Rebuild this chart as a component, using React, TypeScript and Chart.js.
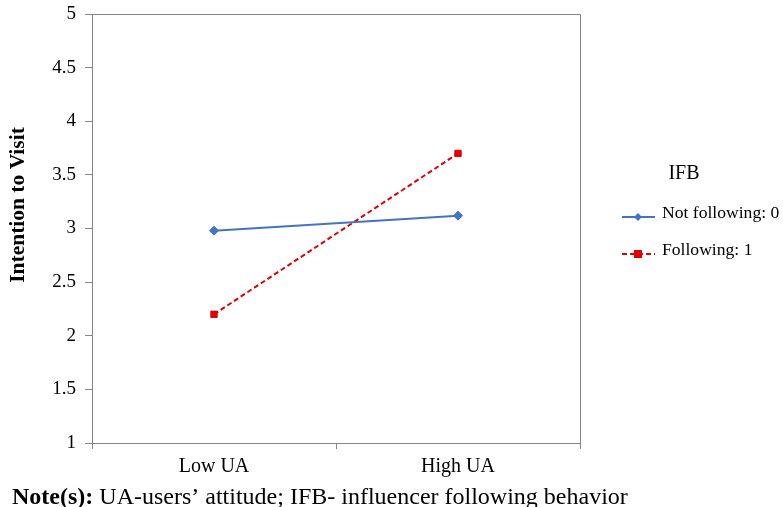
import React, { useEffect, useRef } from "react";
import { Chart, registerables } from "chart.js";
Chart.register(...registerables);

const categories = ["Low UA", "High UA"];
const seriesNames = ["Not following: 0", "Following: 1"];
const notFollowing = [2.98, 3.12];
const following = [2.2, 3.7];
const legendTitle = "IFB";
const yAxisTitle = "Intention to Visit";
const noteBold = "Note(s):";
const noteText = " UA-users\u2019 attitude; IFB- influencer following behavior";

const SERIF = "'Liberation Serif', 'Times New Roman', serif";
const AXIS = "#868686";
const BLUE = "#4472C4";
const RED = "#E00000";

const extras = {
  id: "extras",
  afterDraw(chart: any) {
    const ctx = chart.ctx;
    const { left, top, right, bottom } = chart.chartArea;
    ctx.save();
    ctx.strokeStyle = AXIS;
    ctx.lineWidth = 1;
    ctx.beginPath();
    ctx.moveTo(left, top + 0.5);
    ctx.lineTo(right + 0.5, top + 0.5);
    ctx.lineTo(right + 0.5, bottom);
    ctx.stroke();

    // y axis title
    ctx.save();
    ctx.translate(18, 205);
    ctx.rotate(-Math.PI / 2);
    ctx.fillStyle = "#000";
    ctx.font = `bold 21.5px ${SERIF}`;
    ctx.textAlign = "center";
    ctx.textBaseline = "middle";
    ctx.fillText(yAxisTitle, 0, 0);
    ctx.restore();

    // legend
    ctx.fillStyle = "#000";
    ctx.font = `20px ${SERIF}`;
    ctx.textBaseline = "middle";
    ctx.textAlign = "center";
    ctx.fillText(legendTitle, 684, 174);
    ctx.textAlign = "left";
    ctx.font = `17.6px ${SERIF}`;
    chart.data.datasets.forEach((ds: any, i: number) => {
      const y = 217 + i * 37;
      ctx.strokeStyle = ds.borderColor;
      ctx.lineWidth = 2;
      ctx.setLineDash(ds.borderDash || []);
      ctx.beginPath();
      ctx.moveTo(622, y);
      ctx.lineTo(655, y);
      ctx.stroke();
      ctx.setLineDash([]);
      ctx.fillStyle = ds.backgroundColor;
      if (ds.pointStyle === "rectRot") {
        ctx.beginPath();
        ctx.moveTo(638, y - 4);
        ctx.lineTo(642, y);
        ctx.lineTo(638, y + 4);
        ctx.lineTo(634, y);
        ctx.closePath();
        ctx.fill();
      } else {
        ctx.fillRect(634, y - 4, 8, 8);
      }
      ctx.fillStyle = "#000";
      ctx.fillText(ds.label, 662, y - 4);
    });

    // note
    ctx.textBaseline = "alphabetic";
    ctx.font = `bold 24px ${SERIF}`;
    ctx.fillText(noteBold, 12, 504);
    const w = ctx.measureText(noteBold).width;
    ctx.font = `24px ${SERIF}`;
    ctx.fillText(noteText, 12 + w, 504);
    ctx.restore();
  },
};

export default function App() {
  const ref = useRef<HTMLCanvasElement>(null);
  useEffect(() => {
    const chart = new Chart(ref.current as HTMLCanvasElement, {
      type: "line",
      data: {
        labels: categories,
        datasets: [
          {
            label: seriesNames[0],
            data: notFollowing,
            borderColor: BLUE,
            backgroundColor: BLUE,
            borderWidth: 2,
            pointStyle: "rectRot",
            pointRadius: 4.5,
            pointBorderWidth: 1,
          },
          {
            label: seriesNames[1],
            data: following,
            borderColor: RED,
            backgroundColor: RED,
            borderWidth: 2,
            borderDash: [5, 3],
            pointStyle: "rect",
            pointRadius: 4.5,
            pointBorderWidth: 1,
          },
        ],
      },
      plugins: [extras],
      options: {
        responsive: false,
        animation: false,
        layout: { padding: { left: 0, top: 14, right: 203, bottom: 24 } },
        plugins: { legend: { display: false }, tooltip: { enabled: false } },
        scales: {
          x: {
            type: "category",
            offset: true,
            afterFit: (s: any) => {
              s.height = 40;
              s.paddingLeft = 0;
              s.paddingRight = 0;
            },
            grid: { offset: true, drawOnChartArea: false, tickLength: 6, color: AXIS },
            border: { display: true, color: AXIS },
            ticks: { color: "#000", font: { family: SERIF, size: 20 }, padding: 6 },
          },
          y: {
            min: 1,
            max: 5,
            afterFit: (s: any) => {
              s.width = 92;
              s.paddingTop = 0;
              s.paddingBottom = 0;
            },
            ticks: {
              stepSize: 0.5,
              color: "#000",
              font: { family: SERIF, size: 19 },
              padding: 9,
              callback: (v: any) => String(v),
            },
            grid: { drawOnChartArea: false, tickLength: 7, color: AXIS },
            border: { display: true, color: AXIS },
          },
        },
      } as any,
    });
    return () => chart.destroy();
  }, []);
  return (
    <div style={{ position: "absolute", left: 0, top: 0, width: 783, height: 507, background: "#fff" }}>
      <canvas ref={ref} width={783} height={507} style={{ width: 783, height: 507 }} />
    </div>
  );
}
